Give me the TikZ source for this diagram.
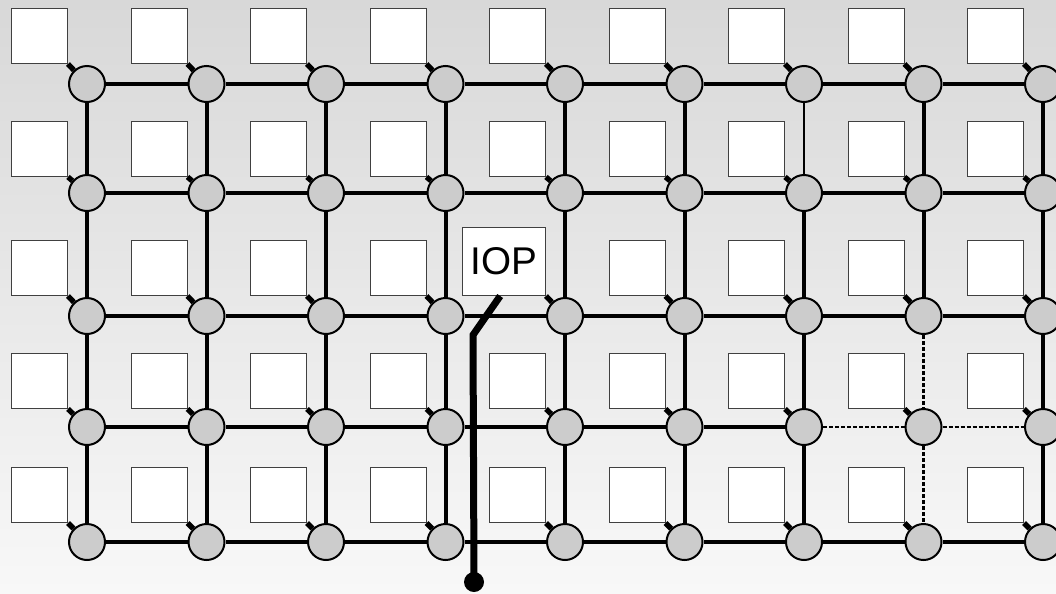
\documentclass[tikz,border=0pt]{standalone}
\usepackage{fontspec}
\setmainfont{Liberation Sans}

\definecolor{bgtop}{RGB}{216,216,216}
\definecolor{bgbottom}{RGB}{248,248,248}
\definecolor{routerfill}{RGB}{204,204,204}

\begin{document}
\begin{tikzpicture}[x=0.75pt,y=-0.75pt,
  router/.style={circle,draw,line width=1.5pt,fill=routerfill,minimum size=27pt,inner sep=0pt},
  core/.style={rectangle,draw=black!75,line width=0.75pt,fill=white,minimum width=42pt,minimum height=41pt,inner sep=0pt,anchor=south east},
  link/.style={line width=3pt},
  thinlink/.style={line width=2pt},
  dlink/.style={line width=2.2pt,dash pattern=on 3pt off 1.5pt},
  tap/.style={line width=4pt},
  ioline/.style={line width=5.25pt},
  pin/.style={circle,fill=black,inner sep=0pt,minimum size=15pt}]
\useasboundingbox (0,0) rectangle (1056,593);
\shade[top color=bgtop,bottom color=bgbottom] (0,0) rectangle (1056,593);

% routers and cores
\foreach \r/\cy/\by in {1/84/64,2/193/177,3/316/296,4/427/409,5/542/523}
  \foreach \c in {1,...,9}{
    \pgfmathsetmacro\cx{87+119.5*(\c-1)}
    \node[router] (n\r-\c) at (\cx,\cy) {};
    \ifnum\r\c=35
      \node[core,minimum width=62pt,minimum height=51pt,font=\fontsize{29}{34}\selectfont] (b\r-\c) at (\cx-19,\by) {IOP};
    \else
      \node[core] (b\r-\c) at (\cx-19,\by) {};
    \fi
    \draw[tap] (b\r-\c.south east) -- (n\r-\c);
  }

% mesh links
\foreach \r in {1,...,5}
  \foreach \c [count=\n from 2] in {1,...,8}{
    \ifnum\r\c>46 \ifnum\r\c<49 \def\lk{dlink}\else\def\lk{link}\fi\else\def\lk{link}\fi
    \draw[\lk] (n\r-\c) -- (n\r-\n);
  }
\foreach \c in {1,...,9}
  \foreach \r [count=\n from 2] in {1,...,4}{
    \def\lk{link}
    \ifnum\c\r=83 \def\lk{dlink}\fi
    \ifnum\c\r=84 \def\lk{dlink}\fi
    \ifnum\c\r=71 \def\lk{thinlink}\fi
    \draw[\lk] (n\r-\c) -- (n\n-\c);
  }

% I/O port
\coordinate (bend) at (473,335);
\node[pin] (port) at (474,582) {};
\draw[ioline] (b3-5.south) ++(-4,0) -- (bend) -- (port.center);
\end{tikzpicture}
\end{document}
